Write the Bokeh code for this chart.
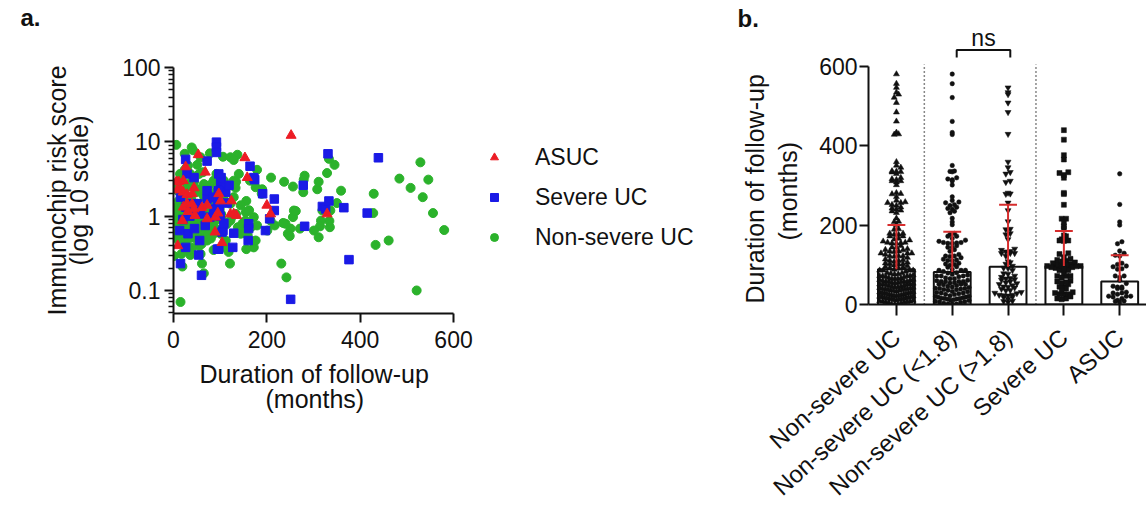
import math
import numpy as np
from bokeh.plotting import figure
from bokeh.layouts import row, column
from bokeh.models import FixedTicker, Legend, LegendItem, Label, Title
from bokeh.embed import file_html
from bokeh.resources import INLINE

FONT = "Liberation Sans"
INK = "#111111"
RED = "#ec1c24"
BLUE = "#1a1ae6"
GREEN = "#2bb22b"
ERR_RED = "#d62d2d"

# ---------------- data: follow-up (months) vs immunochip risk score ----------------
asuc_months = [252, 53, 153, 26, 68, 158, 11, 21, 15, 21, 29, 40, 44, 6, 8, 21, 29, 40,
               31, 46, 61, 72, 97, 90, 95, 101, 124, 122, 129, 135, 200, 208, 329, 104,
               89, 9, 44, 72, 19]
asuc_score = [12.2, 6.7, 6.1, 4.6, 3.9, 3.3, 2.9, 3.0, 2.3, 2.1, 1.95, 2.0, 2.4, 2.9, 2.25,
              1.32, 1.47, 1.45, 1.15, 1.02, 1.3, 0.92, 2.0, 0.97, 1.1, 1.6, 1.6, 1.07, 1.07,
              1.02, 1.4, 1.07, 1.07, 0.44, 0.61, 0.4, 1.25, 1.4, 0.87]

severe_months = [92, 92, 92, 26, 72, 164, 331, 439, 29, 44, 97, 102, 101, 110, 112, 174,
                 172, 191, 216, 216, 278, 319, 326, 333, 365, 415, 376, 281, 197, 206, 251,
                 15, 13, 26, 31, 45, 54, 15, 60, 51, 58, 72, 78, 86, 94, 98, 106, 97, 104,
                 129, 127, 161, 160, 161, 56, 72, 40, 26, 86, 119, 94, 100, 108, 96, 90,
                 35, 20, 68, 115]
severe_score = [9.9, 8.5, 7.2, 5.8, 5.5, 4.7, 6.9, 6.1, 3.7, 3.3, 3.7, 3.3, 2.9, 2.45, 2.1,
                3.1, 3.3, 2.0, 1.7, 1.19, 2.6, 1.35, 1.25, 1.6, 1.3, 1.1, 0.26, 0.73, 0.64,
                0.92, 0.076, 1.8, 0.64, 0.38, 0.58, 0.68, 0.30, 0.23, 0.16, 1.47, 1.07, 1.7,
                0.97, 1.07, 1.6, 1.32, 0.64, 0.36, 0.61, 0.59, 0.38, 0.79, 0.47, 0.68, 0.47,
                2.2, 1.47, 1.32, 1.8, 2.6, 0.36, 1.0, 0.8, 2.2, 1.25, 1.0, 0.9, 0.75, 1.5]

nonsevere_months = [6, 24, 39, 42, 51, 31, 58, 78, 106, 122, 137, 129, 164, 179, 209, 237,
                    256, 281, 279, 308, 311, 329, 333, 345, 359, 350, 484, 508, 529, 546,
                    534, 556, 580, 429, 428, 433, 461, 521, 335, 334, 316, 314, 301, 311,
                    336, 319, 258, 256, 262, 271, 251, 245, 249, 240, 235, 217, 208, 201,
                    231, 242, 278, 176, 190, 166, 172, 176, 156, 159, 154, 155, 156, 179,
                    189, 134, 138, 121, 118, 111, 101, 102, 86, 72, 65, 58, 55, 61, 65, 58,
                    51, 40, 29, 22, 15, 6, 1, 1, 8, 18, 14, 17, 19, 15, 1, 36, 39, 51, 79,
                    86, 72, 62, 48, 44, 36, 55, 65, 72, 86, 92, 97, 102, 108, 129, 134, 140,
                    29, 19, 24, 44, 26, 72, 94, 122, 144, 154, 172, 76, 122, 129, 144, 112,
                    29, 40, 58, 22, 11, 8, 14, 51, 66, 86,
                    3, 5, 7, 9, 10, 12, 13, 16, 18, 20, 21, 23, 25, 27, 28, 30, 32, 33, 35,
                    37, 38, 41, 43, 45, 46, 48, 50, 53, 54, 57, 60, 63, 67, 69, 70, 74, 77,
                    80, 83, 88, 91, 95, 99, 104, 110, 114, 126, 133, 148, 162]
nonsevere_score = [9.1, 6.9, 8.4, 7.7, 4.9, 4.8, 6.2, 7.0, 6.3, 6.2, 6.7, 5.7, 3.0, 4.2,
                   3.3, 2.9, 2.5, 3.5, 3.1, 2.3, 2.9, 3.8, 5.9, 4.9, 2.2, 1.5, 3.2, 2.4, 5.3,
                   3.1, 1.8, 1.1, 0.65, 2.0, 1.1, 0.41, 0.47, 0.10, 0.71, 0.86, 0.87, 0.73,
                   0.64, 0.52, 1.19, 1.19, 1.19, 0.97, 1.17, 0.68, 0.68, 0.58, 0.54, 0.79,
                   0.81, 0.75, 0.87, 0.64, 0.23, 0.15, 2.1, 2.45, 2.3, 0.71, 0.38, 0.47,
                   0.36, 0.55, 0.71, 1.13, 1.6, 0.75, 2.0, 1.07, 0.71, 0.23, 0.33, 0.38,
                   0.58, 1.07, 0.35, 0.47, 0.52, 0.31, 0.40, 0.23, 0.17, 0.71, 0.87, 1.19,
                   1.6, 1.9, 1.07, 0.97, 1.02, 0.52, 0.50, 0.47, 0.58, 0.31, 0.21, 0.07,
                   0.29, 0.30, 0.52, 0.58, 0.71, 1.47, 1.32, 2.0, 2.1, 2.9, 3.7, 3.7, 2.7,
                   2.45, 3.0, 3.7, 2.45, 1.8, 3.0, 3.0, 2.9, 3.7, 2.45, 3.5, 4.2, 0.64,
                   0.79, 0.87, 0.97, 0.87, 0.58, 0.87, 0.97, 1.6, 1.47, 1.8, 1.4, 0.47,
                   0.47, 0.38, 1.07, 0.97, 1.6, 2.6, 3.7, 1.47, 1.8, 0.58,
                   0.8, 1.3, 0.6, 2.2, 1.1, 0.9, 0.45, 1.5, 3.0, 0.75, 1.2, 2.0, 0.55, 1.0,
                   4.5, 0.68, 1.4, 0.35, 2.8, 0.9, 1.7, 0.6, 1.25, 3.3, 0.8, 0.5, 1.05,
                   2.3, 0.72, 1.15, 0.42, 3.9, 0.95, 1.9, 0.62, 1.1, 2.6, 0.5, 1.3, 0.85,
                   2.1, 0.66, 1.25, 0.9, 1.6, 0.78, 1.0, 2.4, 0.8, 1.2]

# ---------------- panel b summary ----------------
group_names = ["Non-severe UC", "Non-severe UC (<1.8)", "Non-severe UC (>1.8)",
               "Severe UC", "ASUC"]
group_median = [89, 82, 95, 97, 58]
group_upper = [200, 183, 251, 185, 124]
risk_cutoff = 1.8
ns_pair = (2, 3)
ns_level = 641


def style_axis(ax, label_size="23px"):
    ax.axis_line_color = INK
    ax.axis_line_width = 2
    ax.major_tick_line_color = INK
    ax.major_tick_line_width = 2
    ax.major_tick_in = 0
    ax.major_tick_out = 9
    ax.minor_tick_line_color = INK
    ax.minor_tick_line_width = 1.5
    ax.minor_tick_in = 0
    ax.minor_tick_out = 5
    ax.major_label_text_font = FONT
    ax.major_label_text_font_size = label_size
    ax.major_label_text_color = INK
    ax.axis_label_text_font = FONT
    ax.axis_label_text_font_size = "25px"
    ax.axis_label_text_font_style = "normal"
    ax.axis_label_text_color = INK


def side_title(p, text, side, offset, standoff):
    p.add_layout(Title(text=text, align="left", offset=offset, standoff=standoff,
                       text_font=FONT, text_font_size="25px",
                       text_font_style="normal", text_color=INK), side)


# ---------------- header strip carrying the "a." panel letter ----------------
head = figure(width=730, height=40, x_range=(0, 730), y_range=(0, 40),
              output_backend="svg", toolbar_location=None,
              x_axis_location=None, y_axis_location=None, min_border=0)
head.outline_line_color = None
head.xgrid.visible = False
head.ygrid.visible = False
head.add_layout(Label(x=20, y=23, text="a.", text_font=FONT, text_font_size="24px",
                      text_font_style="bold", text_color=INK,
                      text_baseline="alphabetic"))

# ---------------- panel a: scatter ----------------
# the frame runs on to the right so the legend can sit inside it;
# the x axis itself is bounded to 0-600 months
pa = figure(width=730, height=473, x_range=(0, 1172), y_range=(0.049, 100),
            y_axis_type="log", output_backend="svg", toolbar_location=None,
            min_border_left=173, min_border_right=10, min_border_top=27,
            min_border_bottom=200)
pa.outline_line_color = None
pa.xgrid.visible = False
pa.ygrid.visible = False

decades = [0.1, 1, 10, 100]
minor = [m * d for d in [0.01, 0.1, 1, 10] for m in range(2, 10)]
pa.yaxis.ticker = FixedTicker(ticks=decades, minor_ticks=minor)
pa.yaxis.major_label_overrides = {0.1: "0.1", 1: "1", 10: "10", 100: "100"}
pa.xaxis.ticker = FixedTicker(ticks=[0, 200, 400, 600], minor_ticks=[])
pa.xaxis.bounds = (0, 600)
style_axis(pa.xaxis[0])
style_axis(pa.yaxis[0])
pa.yaxis.major_label_standoff = 4
pa.xaxis.major_label_standoff = 8
pa.yaxis.axis_label = "Immunochip risk score\n(log 10 scale)"
pa.yaxis.axis_label_text_line_height = 0.8
pa.yaxis.axis_label_standoff = 26
side_title(pa, "Duration of follow-up", "below", 26, 14)
side_title(pa, "(months)", "below", 92, -24)

pa.scatter(nonsevere_months, nonsevere_score, marker="circle", size=9,
           fill_color=GREEN, line_color=GREEN)
pa.scatter(severe_months, severe_score, marker="square", size=8.5,
           fill_color=BLUE, line_color=BLUE)
pa.scatter(asuc_months, asuc_score, marker="triangle", size=10,
           fill_color=RED, line_color=RED)

# legend swatches: unplotted (NaN) glyphs, a little smaller than the points
nan = [float("nan")]
lg_red = pa.scatter(nan, nan, marker="triangle", size=8, fill_color=RED, line_color=RED)
lg_blue = pa.scatter(nan, nan, marker="square", size=7, fill_color=BLUE, line_color=BLUE)
lg_green = pa.scatter(nan, nan, marker="circle", size=7.5, fill_color=GREEN,
                      line_color=GREEN)
legend = Legend(items=[LegendItem(label="ASUC", renderers=[lg_red]),
                       LegendItem(label="Severe UC", renderers=[lg_blue]),
                       LegendItem(label="Non-severe UC", renderers=[lg_green])],
                location=(311, 56), orientation="vertical",
                label_text_font=FONT, label_text_font_size="23px",
                label_text_color=INK, glyph_width=20, glyph_height=40,
                label_height=40, label_standoff=31, spacing=0, padding=0, margin=0,
                border_line_alpha=0, background_fill_alpha=0)
pa.add_layout(legend, "center")

# ---------------- panel b: medians with swarm ----------------
pb = figure(width=416, height=513, x_range=(0.5, 5.48), y_range=(0, 715),
            output_backend="svg", toolbar_location=None,
            min_border_left=138, min_border_right=0, min_border_top=20,
            min_border_bottom=201)
pb.outline_line_color = None
pb.xgrid.visible = False
pb.ygrid.visible = False

for p in (head, pa, pb):
    if "frame_align" in p.properties():
        p.frame_align = False

style_axis(pb.xaxis[0], "24px")
style_axis(pb.yaxis[0])
pb.xaxis.major_tick_out = 11
pb.yaxis.ticker = FixedTicker(ticks=[0, 200, 400, 600], minor_ticks=[])
pb.yaxis.bounds = (0, 600)
pb.yaxis.major_label_standoff = 2
pb.xaxis.ticker = FixedTicker(ticks=[1, 2, 3, 4, 5], minor_ticks=[])
pb.xaxis.major_label_overrides = {i + 1: n for i, n in enumerate(group_names)}
pb.xaxis.major_label_orientation = 0.73
pb.xaxis.major_label_standoff = 18

pb.title.text = "b."
pb.title.align = "left"
pb.title.offset = -131
pb.title.standoff = -22
pb.title.vertical_align = "bottom"
pb.title.text_font = FONT
pb.title.text_font_size = "24px"
pb.title.text_font_style = "bold"
pb.title.text_color = INK

# y title: two lines placed along the 0-600 span of the axis
side_title(pb, "(months)", "left", 64, 30)
side_title(pb, "Duration of follow-up", "left", 1, -25)

ns_m = np.array(nonsevere_months, float)
ns_s = np.array(nonsevere_score, float)
groups = [ns_m, ns_m[ns_s < risk_cutoff], ns_m[ns_s >= risk_cutoff],
          np.array(severe_months, float), np.array(asuc_months, float)]
markers = ["triangle", "circle", "inverted_triangle", "square", "circle"]
msizes = [6, 4.5, 6, 5, 4.5]
pos = [1, 2, 3, 4, 5]


def swarm_x(center, vals, row_h=10.8, step=0.079, span=0.60):
    vals = np.asarray(vals, dtype=float)
    xs = np.full(len(vals), float(center))
    rows = np.floor(vals / row_h).astype(int)
    for r in np.unique(rows):
        idx = np.where(rows == r)[0]
        idx = idx[np.argsort(vals[idx], kind="stable")]
        n = len(idx)
        d = step if n < 2 else min(step, span / (n - 1))
        slots = (np.arange(n) - (n - 1) / 2) * d
        slots = slots[np.argsort(np.abs(slots), kind="stable")]
        xs[idx] = center + slots
    return xs


pb.vbar(x=pos, top=group_median, width=0.66, fill_color="white",
        line_color=INK, line_width=2)

for c, vals, mk, sz in zip(pos, groups, markers, msizes):
    pb.scatter(swarm_x(c, vals), vals, marker=mk, size=sz,
               fill_color=INK, line_color=INK, line_width=0.5)

# upper error bars
pb.segment(x0=pos, y0=group_median, x1=pos, y1=group_upper,
           line_color=ERR_RED, line_width=2)
pb.segment(x0=[p - 0.16 for p in pos], y0=group_upper,
           x1=[p + 0.16 for p in pos], y1=group_upper,
           line_color=ERR_RED, line_width=2)

# dotted dividers between group blocks
dividers = [1.5, 3.5]
pb.segment(x0=dividers, y0=[0, 0], x1=dividers, y1=[605, 605],
           line_color=INK, line_width=1.5, line_dash="1 3")

# comparison bracket
a, b = ns_pair
pb.line([a + 0.08, a + 0.08, b + 0.04, b + 0.04],
        [ns_level - 19, ns_level, ns_level, ns_level - 19],
        line_color=INK, line_width=2)
pb.add_layout(Label(x=(a + b) / 2 + 0.06, y=ns_level + 30, text="ns",
                    text_font=FONT, text_font_size="23px", text_color=INK,
                    text_align="center", text_baseline="middle"))

layout = row(column(head, pa, spacing=0), pb, spacing=0)
open("out.html", "w").write(file_html(layout, INLINE))
